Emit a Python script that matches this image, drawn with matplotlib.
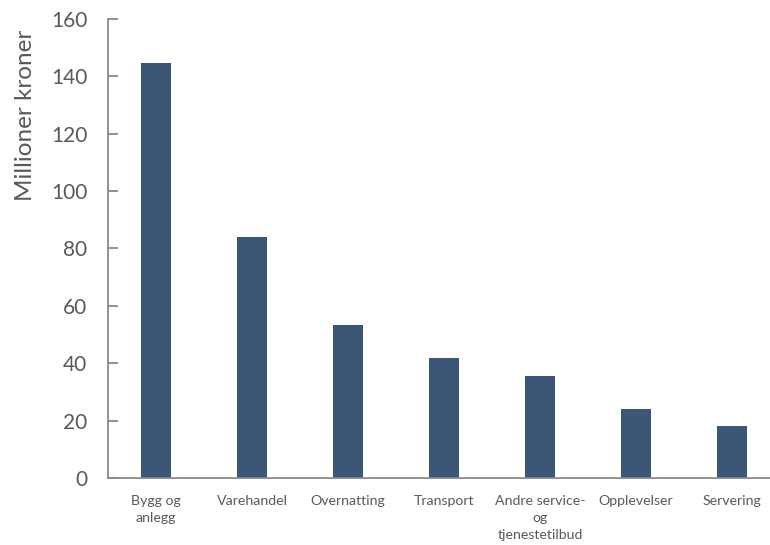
import matplotlib
matplotlib.use("Agg")
import matplotlib.pyplot as plt

# Values (millioner kroner)
categories = ["Bygg og\nanlegg", "Varehandel", "Overnatting", "Transport",
              "Andre service-\nog\ntjenestetilbud", "Opplevelser", "Servering"]
values = [144.5, 84.0, 53.5, 42.0, 35.5, 24.0, 18.0]
yticks = [0, 20, 40, 60, 80, 100, 120, 140, 160]

bar_color = "#3b5676"
text_color = "#595959"
axis_color = "#898989"

plt.rcParams["font.family"] = ["Lato", "DejaVu Sans"]

fig = plt.figure(figsize=(7.7, 5.45), dpi=100)
# axes runs past the right edge, as in the reference (clipped chart)
ax = fig.add_axes([108 / 770, 67 / 545, 672 / 770, 459 / 545])

x = list(range(len(categories)))
ax.bar(x, values, width=0.31, color=bar_color)

ax.set_xlim(-0.5, len(categories) - 0.5)
ax.set_ylim(0, 160)
ax.set_yticks(yticks)
ax.set_xticks(x)
ax.set_xticklabels(categories, fontsize=10.2, color=text_color, linespacing=1.5)
ax.tick_params(axis="x", length=0, pad=12)
ax.tick_params(axis="y", direction="in", length=7, width=1.3, color=axis_color,
               labelsize=15, labelcolor=text_color, pad=15)

# y label sits near the top, not centred on the axis
fig.text(26 / 770, 1 - 115 / 545, "Millioner kroner", rotation=90,
         fontsize=17.5, color=text_color, ha="center", va="center")

for side in ["top", "right"]:
    ax.spines[side].set_visible(False)
for side in ["left", "bottom"]:
    ax.spines[side].set_color(axis_color)
    ax.spines[side].set_linewidth(1.3)

fig.savefig("out.png", dpi=100)
